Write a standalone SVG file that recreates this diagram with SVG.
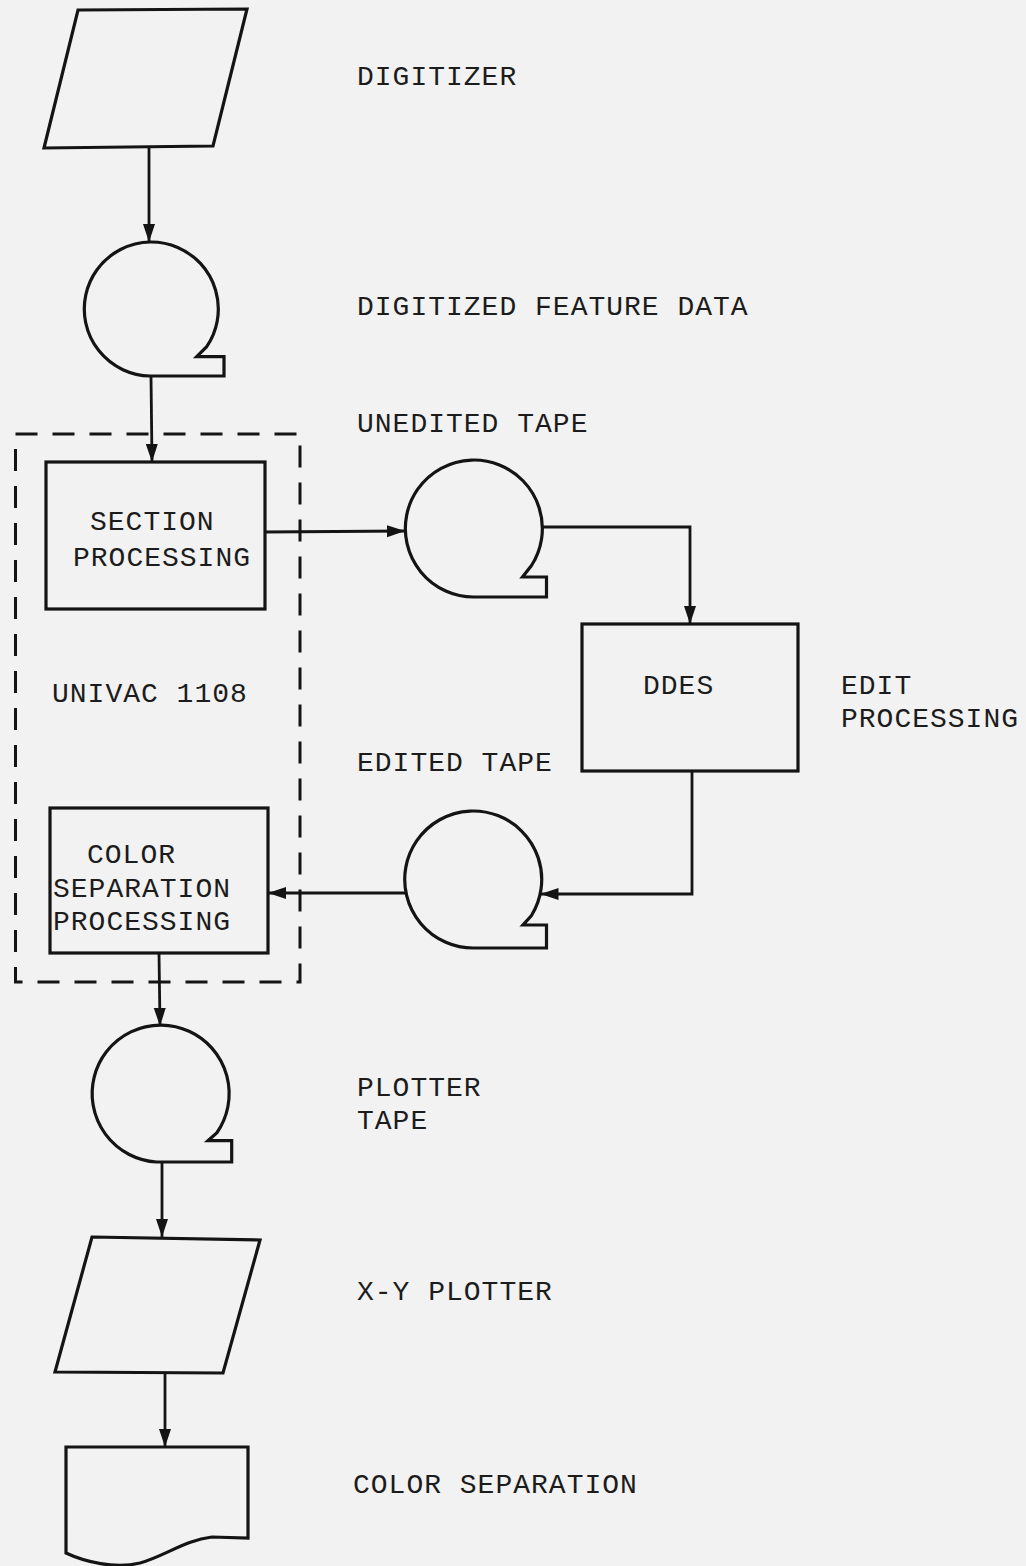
<svg xmlns="http://www.w3.org/2000/svg" width="1026" height="1566" viewBox="0 0 1026 1566">
<style>
.shape{fill:none;stroke:#141414;stroke-width:3.2;stroke-linejoin:miter}
.conn{fill:none;stroke:#141414;stroke-width:2.8}
.dash{fill:none;stroke:#141414;stroke-width:3;stroke-dasharray:22 15}
text{font-family:"Liberation Mono","Courier New",monospace;font-size:28px;letter-spacing:1px;fill:#1c1c1c}
</style>
<defs>
<marker id="arr" markerUnits="userSpaceOnUse" markerWidth="19" markerHeight="13" refX="18" refY="6" orient="auto">
<path d="M0,0 L18,6 L0,12 z" fill="#141414"/>
</marker>
</defs>
<rect x="0" y="0" width="1026" height="1566" fill="#f2f2f2"/>

<g id="univac-1108">
<rect class="dash" x="15.5" y="434" width="284.5" height="548"/>
<text x="52" y="702">UNIVAC 1108</text>
</g>

<g id="digitizer">
<path class="shape" d="M78,10 L247,9 L213,146 L44,148 Z"/>
<text x="357" y="85">DIGITIZER</text>
</g>

<g id="digitized-feature-data">
<path class="shape" d="M150,376 A67,67 0 1 1 206.7,346.7 L196.7,356.7 L224,356.7 L224,376 Z"/>
<text x="357" y="315">DIGITIZED FEATURE DATA</text>
</g>

<g id="section-processing">
<rect class="shape" x="46" y="462" width="219" height="147"/>
<text x="90" y="530">SECTION</text>
<text x="73" y="566">PROCESSING</text>
</g>

<g id="unedited-tape">
<path class="shape" d="M473.5,597 A68.5,68.5 0 1 1 531.5,565.5 L522.5,577 L546.5,577 L546.5,597 Z"/>
<text x="357" y="432">UNEDITED TAPE</text>
</g>

<g id="ddes">
<rect class="shape" x="582" y="624" width="216" height="147"/>
<text x="643" y="694">DDES</text>
<text x="841" y="694">EDIT</text>
<text x="841" y="727">PROCESSING</text>
</g>

<g id="edited-tape">
<path class="shape" d="M473.5,948 A68.5,68.5 0 1 1 531.5,915.5 L523,925 L546.5,925 L546.5,948 Z"/>
<text x="357" y="771">EDITED TAPE</text>
</g>

<g id="color-separation-processing">
<rect class="shape" x="50" y="808" width="218" height="145"/>
<text x="87" y="863">COLOR</text>
<text x="53" y="897">SEPARATION</text>
<text x="53" y="930">PROCESSING</text>
</g>

<g id="plotter-tape">
<path class="shape" d="M156.5,1162 A68.5,68.5 0 1 1 216.7,1133 L208,1140.7 L231.7,1140.7 L231.7,1162 Z"/>
<text x="357" y="1096">PLOTTER</text>
<text x="357" y="1129">TAPE</text>
</g>

<g id="x-y-plotter">
<path class="shape" d="M92,1237 L260,1240 L223,1373 L55,1372 Z"/>
<text x="357" y="1300">X-Y PLOTTER</text>
</g>

<g id="color-separation">
<path class="shape" d="M66,1447 L248,1447 L248,1538 L212,1537 C185,1540 165,1556 140,1563 C115,1569 85,1562 66,1553 Z"/>
<text x="353" y="1493">COLOR SEPARATION</text>
</g>

<g id="connectors">
<path class="conn" d="M149,148 L149,242" marker-end="url(#arr)"/>
<path class="conn" d="M151,376 L152,462" marker-end="url(#arr)"/>
<path class="conn" d="M265,532 L405,531" marker-end="url(#arr)"/>
<path class="conn" d="M542,527 L690,527 L690,624" marker-end="url(#arr)"/>
<path class="conn" d="M692,771 L692,894 L540.5,894" marker-end="url(#arr)"/>
<path class="conn" d="M406,893 L268,893" marker-end="url(#arr)"/>
<path class="conn" d="M159,953 L160,1026" marker-end="url(#arr)"/>
<path class="conn" d="M162,1162 L162,1237" marker-end="url(#arr)"/>
<path class="conn" d="M165,1373 L165,1447" marker-end="url(#arr)"/>
</g>
</svg>
